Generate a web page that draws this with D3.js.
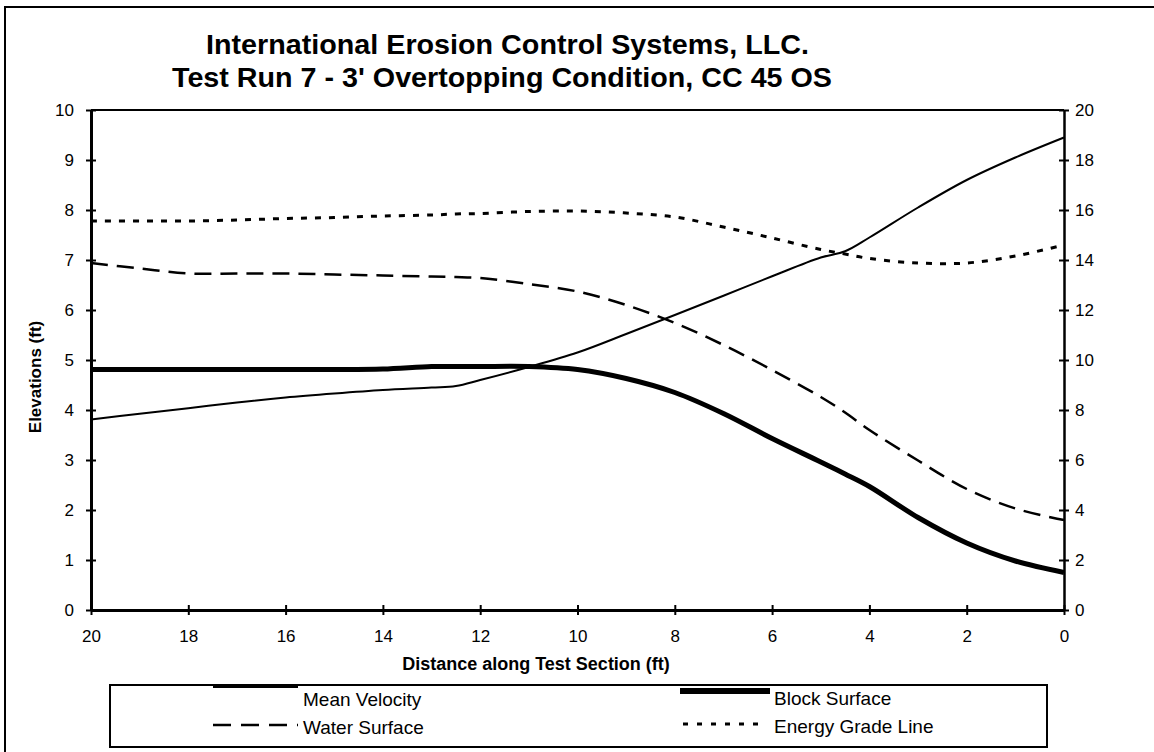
<!DOCTYPE html>
<html>
<head>
<meta charset="utf-8">
<script src="https://cdn.jsdelivr.net/npm/d3@7"></script>
<style>
  html, body { margin: 0; padding: 0; background: #fff; }
  svg { display: block; font-family: "Liberation Sans", Arial, sans-serif; }
</style>
</head>
<body>
<svg id="chart" width="1154" height="752"></svg>
<script>
// ---- Data ----
const titleLines = ["International Erosion Control Systems, LLC.", "Test Run 7 - 3' Overtopping Condition, CC 45 OS"];
const distance = [20, 19, 18, 17, 16, 15, 14, 13, 12.5, 12, 11, 10, 9, 8, 7, 6, 5, 4.5, 4, 3, 2, 1, 0];
const meanVelocity = [7.62, 7.85, 8.07, 8.3, 8.5, 8.66, 8.8, 8.9, 8.96, 9.2, 9.72, 10.3, 11.04, 11.8, 12.57, 13.35, 14.1, 14.35, 14.9, 16.1, 17.2, 18.1, 18.9];
const blockSurface = [4.81, 4.81, 4.81, 4.81, 4.81, 4.81, 4.82, 4.87, 4.87, 4.87, 4.87, 4.81, 4.63, 4.35, 3.93, 3.43, 2.96, 2.72, 2.47, 1.85, 1.34, 0.98, 0.75];
const waterSurface = [6.94, 6.83, 6.73, 6.73, 6.73, 6.71, 6.69, 6.67, 6.66, 6.64, 6.52, 6.37, 6.1, 5.74, 5.3, 4.8, 4.26, 3.95, 3.6, 2.99, 2.42, 2.03, 1.8];
const energyGrade = [7.78, 7.78, 7.78, 7.8, 7.83, 7.85, 7.88, 7.9, 7.92, 7.93, 7.97, 7.98, 7.94, 7.86, 7.66, 7.44, 7.21, 7.12, 7.03, 6.94, 6.94, 7.08, 7.3];
const xTicks = [20, 18, 16, 14, 12, 10, 8, 6, 4, 2, 0];
const yLeftTicks = [0, 1, 2, 3, 4, 5, 6, 7, 8, 9, 10];
const yRightTicks = [0, 2, 4, 6, 8, 10, 12, 14, 16, 18, 20];
const seriesNames = ["Mean Velocity", "Block Surface", "Water Surface", "Energy Grade Line"];
const xLabel = "Distance along Test Section (ft)";
const yLabel = "Elevations (ft)";

// ---- Layout ----
const svg = d3.select("#chart");
const plot = { left: 91, right: 1064, top: 110, bottom: 610 };

const x = d3.scaleLinear().domain([20, 0]).range([plot.left, plot.right]);
const y = d3.scaleLinear().domain([0, 10]).range([plot.bottom, plot.top]);
const y2 = d3.scaleLinear().domain([0, 20]).range([plot.bottom, plot.top]);

// outer frame (left + top only, as in the scan)
svg.append("line").attr("x1", 5).attr("y1", 7).attr("x2", 5).attr("y2", 752)
  .attr("stroke", "#000").attr("stroke-width", 2);
svg.append("line").attr("x1", 4).attr("y1", 7).attr("x2", 1154).attr("y2", 7)
  .attr("stroke", "#000").attr("stroke-width", 2);

// Title
const titleSpec = [
  { x: 206, y: 54, len: 603 },
  { x: 172, y: 87, len: 660 }
];
titleLines.forEach((t, i) => {
  svg.append("text")
    .attr("x", titleSpec[i].x).attr("y", titleSpec[i].y)
    .attr("font-size", 27).attr("font-weight", "bold")
    .attr("textLength", titleSpec[i].len).attr("lengthAdjust", "spacingAndGlyphs")
    .attr("fill", "#000")
    .text(t);
});

// top border of plot
svg.append("line").attr("x1", plot.left).attr("x2", plot.right)
  .attr("y1", plot.top).attr("y2", plot.top)
  .attr("stroke", "#000").attr("stroke-width", 2);

// Axes
function styleAxis(g, sw, tickAttr) {
  g.select(".domain").attr("stroke", "#000").attr("stroke-width", sw);
  g.selectAll(".tick line").attr("stroke", "#000").attr("stroke-width", 2).attr(tickAttr[0], -5).attr(tickAttr[1], 5);
  g.selectAll(".tick text").attr("fill", "#000").attr("font-size", 17)
    .attr("font-family", "'Liberation Sans', Arial, sans-serif");
}

const gLeft = svg.append("g").attr("transform", `translate(${plot.left},0)`)
  .call(d3.axisLeft(y).tickValues(yLeftTicks).tickFormat(d3.format("d")).tickSizeInner(0).tickSizeOuter(0).tickPadding(17));
styleAxis(gLeft, 3, ["x1", "x2"]);

const gRight = svg.append("g").attr("transform", `translate(${plot.right},0)`)
  .call(d3.axisRight(y2).tickValues(yRightTicks).tickFormat(d3.format("d")).tickSizeInner(0).tickSizeOuter(0).tickPadding(11));
styleAxis(gRight, 2.5, ["x1", "x2"]);

const gBottom = svg.append("g").attr("transform", `translate(0,${plot.bottom})`)
  .call(d3.axisBottom(x).tickValues(xTicks).tickFormat(d3.format("d")).tickSizeInner(0).tickSizeOuter(0).tickPadding(20));
styleAxis(gBottom, 3, ["y1", "y2"]);

// Axis titles
svg.append("text")
  .attr("x", 536).attr("y", 670)
  .attr("text-anchor", "middle").attr("font-size", 18).attr("font-weight", "bold")
  .text(xLabel);
svg.append("text")
  .attr("transform", "translate(41,377) rotate(-90)")
  .attr("text-anchor", "middle").attr("font-size", 17).attr("font-weight", "bold")
  .text(yLabel);

// Series
const curve = d3.curveCatmullRom.alpha(0.5);
const lineLeft = d3.line().x((d) => x(d[0])).y((d) => y(d[1])).curve(curve);
const lineRight = d3.line().x((d) => x(d[0])).y((d) => y2(d[1])).curve(curve);

const styles = {
  "Mean Velocity": { w: 2, dash: null },
  "Block Surface": { w: 5, dash: null },
  "Water Surface": { w: 2.5, dash: "17,9" },
  "Energy Grade Line": { w: 3, dash: "6,8" }
};

svg.append("path").datum(d3.zip(distance, energyGrade))
  .attr("d", lineLeft).attr("fill", "none").attr("stroke", "#000")
  .attr("stroke-width", styles["Energy Grade Line"].w).attr("stroke-dasharray", styles["Energy Grade Line"].dash);
svg.append("path").datum(d3.zip(distance, waterSurface))
  .attr("d", lineLeft).attr("fill", "none").attr("stroke", "#000")
  .attr("stroke-width", styles["Water Surface"].w).attr("stroke-dasharray", styles["Water Surface"].dash);
svg.append("path").datum(d3.zip(distance, blockSurface))
  .attr("d", lineLeft).attr("fill", "none").attr("stroke", "#000")
  .attr("stroke-width", styles["Block Surface"].w).attr("stroke-linejoin", "round");
svg.append("path").datum(d3.zip(distance, meanVelocity))
  .attr("d", lineRight).attr("fill", "none").attr("stroke", "#000")
  .attr("stroke-width", styles["Mean Velocity"].w);

// Legend
svg.append("rect").attr("x", 110).attr("y", 685).attr("width", 937).attr("height", 62)
  .attr("fill", "none").attr("stroke", "#000").attr("stroke-width", 2);

const legendItems = [
  { name: seriesNames[0], lx1: 213, lx2: 298, ly: 687, tx: 303, ty: 706, w: 2, dash: null },
  { name: seriesNames[2], lx1: 213, lx2: 298, ly: 725, tx: 303, ty: 734, w: 2.5, dash: "18,10" },
  { name: seriesNames[1], lx1: 680, lx2: 770, ly: 691, tx: 774, ty: 705, w: 6, dash: null },
  { name: seriesNames[3], lx1: 683, lx2: 760, ly: 724, tx: 774, ty: 733, w: 3, dash: "5,9" }
];
legendItems.forEach((it) => {
  svg.append("line").attr("x1", it.lx1).attr("x2", it.lx2).attr("y1", it.ly).attr("y2", it.ly)
    .attr("stroke", "#000").attr("stroke-width", it.w).attr("stroke-dasharray", it.dash);
  svg.append("text").attr("x", it.tx).attr("y", it.ty)
    .attr("font-size", 19).attr("fill", "#000").text(it.name);
});
</script>
</body>
</html>
